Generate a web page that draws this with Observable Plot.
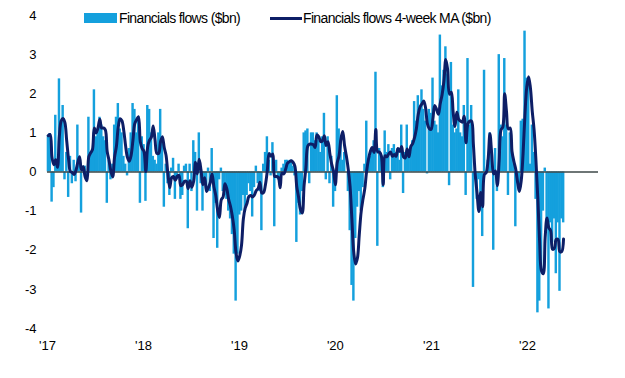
<!DOCTYPE html>
<html>
<head>
<meta charset="utf-8">
<script src="https://cdn.jsdelivr.net/npm/d3@7"></script>
<script src="https://cdn.jsdelivr.net/npm/@observablehq/plot@0.6"></script>
<style>
  html, body { margin: 0; padding: 0; background: #fff; }
  #wrap { position: relative; width: 625px; height: 378px; }
  .legend { position: absolute; top: 10px; left: 84px; font-family: "Liberation Sans", Arial, sans-serif; font-size: 14px; letter-spacing: -0.65px; color: #000; white-space: nowrap; }
  .legend .item { position: absolute; top: 0; display: flex; align-items: center; height: 16px; }
  .legend .swatch { width: 33px; height: 10px; margin-right: 2px; }
  .legend .line { width: 32px; height: 3px; margin-right: 1px; }
</style>
</head>
<body>
<div id="wrap"></div>
<script>
// ---- Data ----
const seriesNames = ["Financials flows ($bn)", "Financials flows 4-week MA ($bn)"];
const startDate = "2017-01-04"; // first weekly observation
const yearTicks = [2017, 2018, 2019, 2020, 2021, 2022];
const yTicks = [-4, -3, -2, -1, 0, 1, 2, 3, 4];
// Weekly financials flows, $bn
const weeklyFlows = [
  // 2017
  0.93, 0.98, -0.77, -0.4, 1.45, 0.2, 2.38, 1.2, 1.7, -0.2, 0.5, -0.65, 0.4, -0.3, 0.3, -0.25,
  1.2, 0.3, -1.05, 0.1, 0.15, -0.1, 1.4, 0.5, 0.5, 2.1, 0.9, 1.0, 1.4, 1.2, 0.9, 0.8,
  -0.8, 0.3, -0.2, 0.2, 1.2, 1.4, 1.75, 1.1, 1.0, 0.4, 0.2, -0.1, 0.6, 1.0, 1.75, 1.6,
  // late 2017 - 2018
  1.0, 1.3, -0.8, 0.9, 0.7, -0.75, 1.7, 1.6, 1.0, 0.4, 0.3, 0.2, 1.0, 1.6, 0.8, -0.9,
  0.2, -0.3, -0.6, 0.1, 0.35, -0.7, -0.2, 0.2, -0.7, -0.6, 0.15, 0.2, -1.45, 0.2, -0.5, 0.8,
  0.5, -1.0, 1.0, -0.3, -1.0, -0.3, -0.4, 0.1, -0.5, 0.6, -1.7, -0.8, -1.95, -0.2, 0.1, -0.5,
  -0.6, -0.7, -1.0, -1.2,
  // late 2018 - 2019
  -1.6, -2.1, -3.3, -2.1, -1.1, -1.0, -0.6, -1.0, -0.6, -0.3, -0.5, -1.15, -0.4, 0.15, -0.3, -0.5,
  -1.5, 0.2, 0.5, 0.9, 0.3, -0.1, 0.75, -1.4, 0.3, -0.2, -0.3, 0.1, 0.2, 0.3, 0.3, 0.25,
  0.3, 0.15, -0.1, -1.8, -0.8, -1.1, -0.5, 1.0, 1.05, 1.1, -0.3, 1.0, 1.0, 0.8, 1.0, 0.8,
  0.5, 0.9, 1.5, -0.2, 0.9,
  // 2020
  -0.3, 0.4, -0.9, -0.5, 1.95, 1.1, 0.8, 0.3, 0.5, 0.0, -0.5, -1.5, -2.9, -3.3, -1.7, -0.9,
  -0.5, -1.0, -0.4, 0.2, 1.3, 0.2, 0.4, 0.6, 0.8, 2.55, -1.9, 0.6, 0.4, -0.4, 1.05, 0.5,
  0.7, -0.2, 0.6, 0.7, 0.5, 0.6, 0.3, 1.2, -0.55, 0.5, 1.2, 0.4, 0.5, 0.8, 1.8, 1.3,
  1.95, 1.6, 2.1,
  // 2021
  1.6, 1.3, -0.05, 1.6, 1.5, 2.4, 1.3, 1.2, 1.0, 3.5, 2.2, 2.6, 3.2, 2.5, -0.35, 2.8,
  1.2, 1.0, 1.1, 2.1, 1.0, 0.9, 1.7, -0.6, 2.9, 1.2, 1.7, -2.95, -0.2, -0.7, -0.2, -1.0,
  -1.65, 2.6, 0.0, 0.3, 1.0, 0.5, -2.0, 0.6, -0.5, 3.0, 1.2, 0.9, 2.9, 1.2, -0.6, 1.0,
  0.5, 0.2, -1.4,
  // 2022
  -0.3, -0.5, 1.3, 1.35, 3.6, 2.4, 2.4, 0.2, 1.2, 0.5, -0.7, -3.6, -3.3, -2.5, -1.0, 0.1,
  -1.3, -3.5, -1.3, -1.8, -1.2, -2.6, -1.3, -3.05, -1.2, -1.3
];

// ---- Build table ----
const WEEK = 7 * 864e5;
const t0 = new Date(startDate + "T00:00:00Z").getTime();
const data = weeklyFlows.map((v, i) => {
  const d = new Date(t0 + i * WEEK);
  const s = d3.utcWeek.floor(d);
  return { date: d, start: s, end: d3.utcWeek.offset(s, 1), value: v };
});

const barColor = "#14a0dd";
const maColor = "#0d1e66";

const chart = Plot.plot({
  width: 625,
  height: 378,
  marginLeft: 47,
  marginRight: 27,
  marginTop: 15,
  marginBottom: 50,
  style: { fontFamily: "'Liberation Sans', Arial, sans-serif", fontSize: "13px", color: "#000", background: "#fff" },
  x: {
    type: "utc",
    domain: [new Date(Date.UTC(2017, 0, 1)), new Date(Date.UTC(2022, 8, 28))],
    ticks: yearTicks.map(y => new Date(Date.UTC(y, 0, 1))),
    tickFormat: d => "'" + String(d.getUTCFullYear()).slice(2),
    tickSize: 0,
    tickPadding: 12,
    label: null
  },
  y: {
    domain: [-4, 4],
    ticks: yTicks,
    tickFormat: d => String(d),
    tickSize: 0,
    tickPadding: 11,
    label: null
  },
  marks: [
    Plot.rect(data, { x1: "start", x2: "end", y1: 0, y2: "value", fill: barColor, insetLeft: -0.3, insetRight: -0.3 }),
    Plot.ruleY([0], { stroke: "#3e4848", strokeWidth: 1.5 }),
    Plot.lineY(data, Plot.windowY({ k: 4, anchor: "end" }, {
      x: "date", y: "value", stroke: maColor, strokeWidth: 3, curve: "catmull-rom"
    }))
  ]
});

const wrap = document.getElementById("wrap");
wrap.appendChild(chart);

// Legend overlay (inside the plot's top band)
const legend = document.createElement("div");
legend.className = "legend";
legend.innerHTML =
  `<div class="item" style="left:0px"><span class="swatch" style="background:${barColor}"></span><span>${seriesNames[0]}</span></div>` +
  `<div class="item" style="left:186px"><span class="line" style="background:${maColor}"></span><span>${seriesNames[1]}</span></div>`;
wrap.appendChild(legend);
</script>
</body>
</html>
